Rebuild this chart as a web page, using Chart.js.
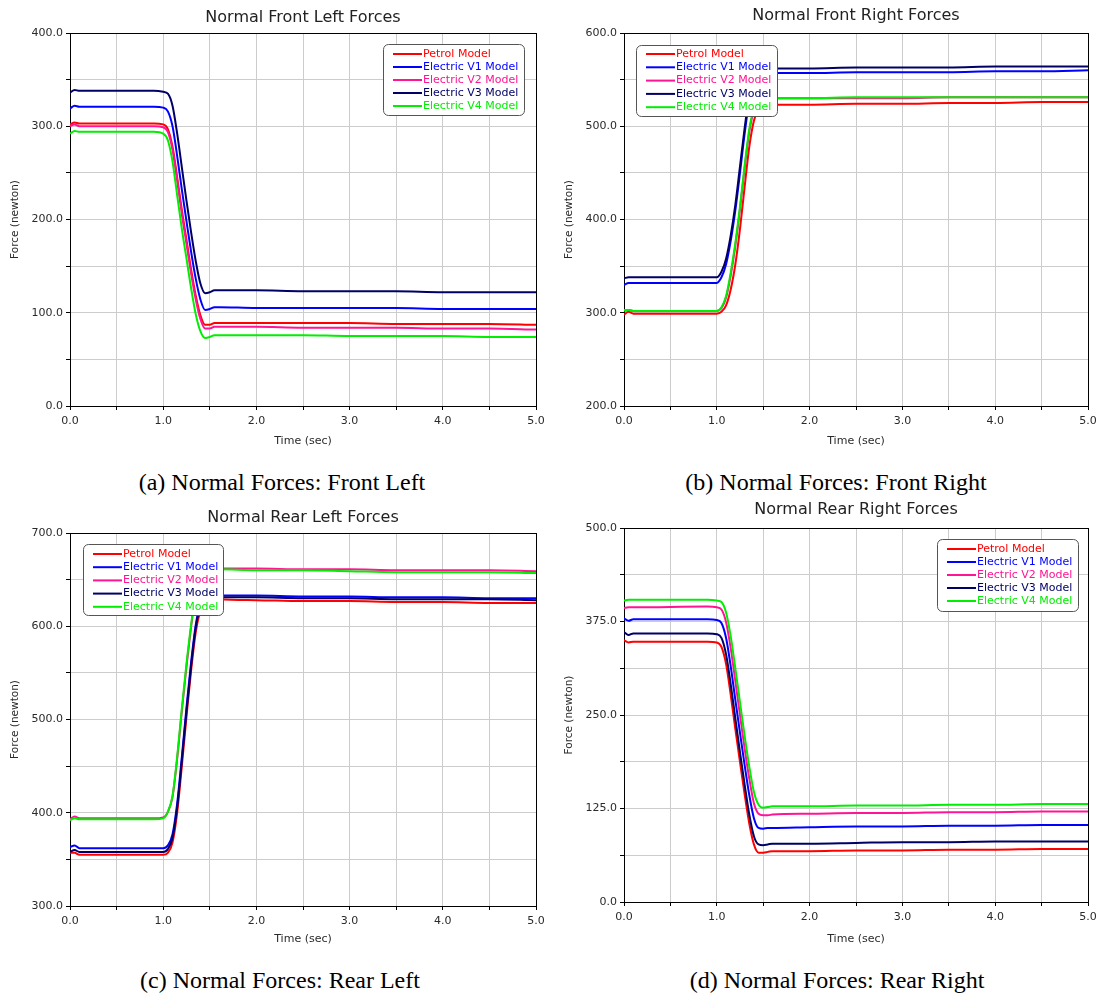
<!DOCTYPE html>
<html>
<head>
<meta charset="utf-8">
<script src="https://cdn.jsdelivr.net/npm/chart.js@4.4.0/dist/chart.umd.min.js"></script>
<style>
  body { margin: 0; background: #fff; width: 1102px; height: 996px; position: relative; overflow: hidden; }
  canvas { position: absolute; }
  .caption {
    position: absolute;
    font-family: "Liberation Serif", "Times New Roman", serif;
    font-size: 24px;
    color: #000;
    white-space: nowrap;
    transform: translate(-50%, -50%);
  }
</style>
</head>
<body>
<canvas id="frontLeft" width="555" height="452" style="left:0;top:0;width:555px;height:452px"></canvas>
<canvas id="frontRight" width="547" height="452" style="left:555px;top:0;width:547px;height:452px"></canvas>
<canvas id="rearLeft" width="555" height="452" style="left:0;top:498px;width:555px;height:452px"></canvas>
<canvas id="rearRight" width="547" height="452" style="left:555px;top:498px;width:547px;height:452px"></canvas>

<div class="caption" style="left:282px;top:482px">(a) Normal Forces: Front Left</div>
<div class="caption" style="left:836px;top:482px">(b) Normal Forces: Front Right</div>
<div class="caption" style="left:280px;top:980px">(c) Normal Forces: Rear Left</div>
<div class="caption" style="left:837px;top:980px">(d) Normal Forces: Rear Right</div>

<script>
// sample times (sec), shared by every series
const times = [0, 0.05, 0.1, 0.9, 1.0, 1.05, 1.1, 1.15, 1.2, 1.25, 1.3, 1.35, 1.4, 1.45, 1.5, 1.55, 1.6, 2.0, 2.5, 3.0, 3.5, 4.0, 4.5, 5.0];

const seriesNames = ['Petrol Model', 'Electric V1 Model', 'Electric V2 Model', 'Electric V3 Model', 'Electric V4 Model'];
const seriesColors = ['#ff0000', '#0000ff', '#ff1493', '#000066', '#00ee00'];

// Normal Front Left Forces
const frontLeftPetrol = [302, 304, 303, 303, 302, 297, 278, 245, 210, 178, 146, 118, 97, 87, 87, 89, 89, 89, 89, 89, 88, 88, 88, 87];
const frontLeftV1 = [319, 322, 321, 321, 320, 316, 300, 268, 232, 198, 165, 136, 114, 103, 104, 106, 106, 105, 105, 105, 105, 104, 104, 104];
const frontLeftV2 = [300, 302, 300, 300, 299, 294, 275, 242, 206, 174, 142, 114, 93, 83, 83, 85, 85, 85, 84, 84, 84, 83, 83, 82];
const frontLeftV3 = [336, 339, 338, 338, 337, 335, 322, 292, 256, 220, 186, 155, 131, 121, 122, 124, 124, 124, 123, 123, 123, 122, 122, 122];
const frontLeftV4 = [292, 295, 294, 294, 292, 285, 262, 226, 190, 158, 126, 98, 80, 73, 74, 76, 76, 76, 76, 75, 75, 75, 74, 74];

// Normal Front Right Forces
const frontRightPetrol = [298, 301, 299, 299, 299, 301, 308, 325, 352, 390, 435, 478, 506, 519, 523, 523, 523, 523, 524, 524, 525, 525, 526, 526];
const frontRightV1 = [330, 332, 332, 332, 332, 338, 352, 377, 410, 450, 492, 527, 548, 556, 557, 557, 557, 557, 558, 558, 558, 559, 559, 560];
const frontRightV2 = [302, 303, 302, 302, 302, 305, 316, 340, 372, 411, 455, 494, 517, 527, 529, 530, 530, 530, 530, 530, 531, 531, 531, 531];
const frontRightV3 = [337, 338, 338, 338, 338, 344, 358, 383, 416, 457, 498, 533, 554, 561, 562, 562, 562, 562, 563, 563, 563, 564, 564, 564];
const frontRightV4 = [303, 303, 302, 302, 302, 306, 318, 343, 375, 414, 458, 497, 519, 528, 530, 530, 530, 530, 531, 531, 531, 531, 531, 531];

// Normal Rear Left Forces
const rearLeftPetrol = [357, 357, 355, 355, 355, 357, 368, 400, 450, 503, 553, 594, 617, 627, 629, 630, 629, 628, 627, 627, 626, 626, 625, 625];
const rearLeftV1 = [363, 365, 362, 362, 362, 365, 377, 410, 460, 513, 562, 602, 624, 632, 634, 634, 633, 633, 632, 632, 631, 631, 630, 630];
const rearLeftV2 = [393, 396, 394, 394, 395, 401, 417, 458, 509, 557, 600, 636, 655, 661, 662, 663, 662, 662, 661, 661, 660, 660, 660, 659];
const rearLeftV3 = [358, 360, 358, 358, 358, 361, 373, 406, 456, 509, 558, 599, 622, 630, 632, 632, 631, 631, 630, 630, 629, 629, 629, 628];
const rearLeftV4 = [392, 394, 393, 393, 394, 401, 418, 460, 512, 560, 602, 637, 655, 660, 661, 661, 661, 660, 660, 659, 658, 658, 658, 657];

// Normal Rear Right Forces
const rearRightPetrol = [350, 347, 348, 348, 347, 341, 318, 277, 231, 187, 144, 105, 77, 66, 66, 67, 68, 68, 69, 69, 70, 70, 71, 71];
const rearRightV1 = [379, 376, 378, 378, 377, 373, 353, 315, 270, 226, 183, 143, 112, 99, 98, 99, 99, 100, 101, 101, 102, 102, 103, 103];
const rearRightV2 = [393, 394, 394, 395, 394, 391, 374, 339, 295, 250, 205, 165, 132, 118, 116, 116, 117, 118, 119, 119, 120, 120, 121, 121];
const rearRightV3 = [361, 357, 359, 359, 358, 353, 331, 291, 245, 200, 157, 117, 88, 77, 76, 77, 78, 78, 79, 80, 80, 81, 81, 81];
const rearRightV4 = [403, 404, 404, 404, 403, 401, 387, 355, 312, 267, 222, 181, 147, 130, 126, 127, 128, 128, 129, 129, 130, 130, 131, 131];

const FONT = "'DejaVu Sans', Verdana, sans-serif";

// black box round the plot area
const framePlugin = {
    id: 'frame',
    beforeDatasetsDraw(chart) {
        const a = chart.chartArea;
        const ctx = chart.ctx;
        ctx.save();
        ctx.strokeStyle = '#000';
        ctx.lineWidth = 1;
        ctx.strokeRect(Math.round(a.left) + 0.5, Math.round(a.top) + 0.5,
            Math.round(a.right - a.left), Math.round(a.bottom - a.top));
        ctx.restore();
    }
};

// title centred over the plot area
const titlePlugin = {
    id: 'panelTitle',
    afterDraw(chart, args, opts) {
        const a = chart.chartArea;
        const ctx = chart.ctx;
        ctx.save();
        ctx.font = '16px ' + FONT;
        ctx.fillStyle = '#222';
        ctx.textAlign = 'center';
        ctx.textBaseline = 'middle';
        ctx.fillText(opts.text, (a.left + a.right) / 2, a.top - opts.offset);
        ctx.restore();
    }
};

// boxed legend drawn inside the plot
const boxLegendPlugin = {
    id: 'boxLegend',
    afterDraw(chart, args, opts) {
        const ctx = chart.ctx;
        ctx.save();
        ctx.beginPath();
        ctx.roundRect(opts.x + 0.5, opts.y + 0.5, opts.w, opts.h, 5);
        ctx.fillStyle = '#fff';
        ctx.fill();
        ctx.strokeStyle = '#555';
        ctx.lineWidth = 1;
        ctx.stroke();
        ctx.font = '11px ' + FONT;
        ctx.textBaseline = 'middle';
        chart.data.datasets.forEach((ds, i) => {
            const y = opts.y + opts.first + i * opts.step;
            ctx.strokeStyle = ds.borderColor;
            ctx.lineWidth = 2;
            ctx.beginPath();
            ctx.moveTo(opts.x + 10, y);
            ctx.lineTo(opts.x + 39, y);
            ctx.stroke();
            ctx.fillStyle = ds.borderColor;
            ctx.fillText(ds.label, opts.x + 40, y);
        });
        ctx.restore();
    }
};

function makeChart(id, cfg) {
    const canvas = document.getElementById(id);
    return new Chart(canvas.getContext('2d'), {
        type: 'line',
        data: {
            datasets: seriesNames.map((name, i) => ({
                label: name,
                data: times.map((t, k) => ({ x: t, y: cfg.values[i][k] })),
                borderColor: seriesColors[i],
                backgroundColor: seriesColors[i],
                borderWidth: 2,
                pointRadius: 0,
                cubicInterpolationMode: 'monotone',
                order: 5 - i
            }))
        },
        options: {
            responsive: false,
            animation: false,
            events: [],
            layout: { padding: cfg.padding },
            plugins: {
                legend: { display: false },
                tooltip: { enabled: false },
                panelTitle: { text: cfg.title, offset: cfg.titleOffset },
                boxLegend: cfg.legend
            },
            scales: {
                x: {
                    type: 'linear',
                    min: 0,
                    max: 5,
                    ticks: {
                        stepSize: 0.5,
                        autoSkip: false,
                        maxRotation: 0,
                        padding: 5,
                        color: '#2a2a2a',
                        font: { family: FONT, size: 11 },
                        callback: v => (Math.abs(v - Math.round(v)) < 1e-6 ? v.toFixed(1) : '')
                    },
                    grid: { color: '#cccccc', tickColor: '#000', tickLength: 4 },
                    border: { color: '#000' },
                    title: {
                        display: true,
                        text: 'Time (sec)',
                        color: '#2a2a2a',
                        font: { family: FONT, size: 11 }
                    },
                    afterFit: s => { s.height = cfg.xHeight; }
                },
                y: {
                    min: cfg.yMin,
                    max: cfg.yMax,
                    ticks: {
                        stepSize: cfg.yStep,
                        autoSkip: false,
                        padding: 3,
                        color: '#2a2a2a',
                        font: { family: FONT, size: 11 },
                        callback: v => (Math.abs(v / cfg.yLabelStep - Math.round(v / cfg.yLabelStep)) < 1e-6 ? v.toFixed(1) : '')
                    },
                    grid: { color: '#cccccc', tickColor: '#000', tickLength: 4 },
                    border: { color: '#000' },
                    title: {
                        display: true,
                        text: 'Force (newton)',
                        color: '#2a2a2a',
                        font: { family: FONT, size: 10.5 }
                    },
                    afterFit: s => { s.width = 65; }
                }
            }
        },
        plugins: [framePlugin, titlePlugin, boxLegendPlugin]
    });
}

makeChart('frontLeft', {
    title: 'Normal Front Left Forces',
    titleOffset: 15,
    values: [frontLeftPetrol, frontLeftV1, frontLeftV2, frontLeftV3, frontLeftV4],
    yMin: 0, yMax: 400, yStep: 50, yLabelStep: 100,
    padding: { left: 5, top: 33, right: 19, bottom: 0 },
    xHeight: 46,
    legend: { x: 383, y: 44, w: 141, h: 71, first: 10, step: 13 }
});

makeChart('frontRight', {
    title: 'Normal Front Right Forces',
    titleOffset: 17,
    values: [frontRightPetrol, frontRightV1, frontRightV2, frontRightV3, frontRightV4],
    yMin: 200, yMax: 600, yStep: 50, yLabelStep: 100,
    padding: { left: 4, top: 33, right: 14, bottom: 0 },
    xHeight: 46,
    legend: { x: 81, y: 45, w: 141, h: 71, first: 9, step: 13.3 }
});

makeChart('rearLeft', {
    title: 'Normal Rear Left Forces',
    titleOffset: 15,
    values: [rearLeftPetrol, rearLeftV1, rearLeftV2, rearLeftV3, rearLeftV4],
    yMin: 300, yMax: 700, yStep: 50, yLabelStep: 100,
    padding: { left: 5, top: 35, right: 19, bottom: 0 },
    xHeight: 44,
    legend: { x: 83, y: 46, w: 140, h: 71, first: 10, step: 13.2 }
});

makeChart('rearRight', {
    title: 'Normal Rear Right Forces',
    titleOffset: 18,
    values: [rearRightPetrol, rearRightV1, rearRightV2, rearRightV3, rearRightV4],
    yMin: 0, yMax: 500, yStep: 62.5, yLabelStep: 125,
    padding: { left: 4, top: 30, right: 14, bottom: 0 },
    xHeight: 48,
    legend: { x: 382, y: 41, w: 141, h: 72, first: 10, step: 13 }
});
</script>
</body>
</html>
